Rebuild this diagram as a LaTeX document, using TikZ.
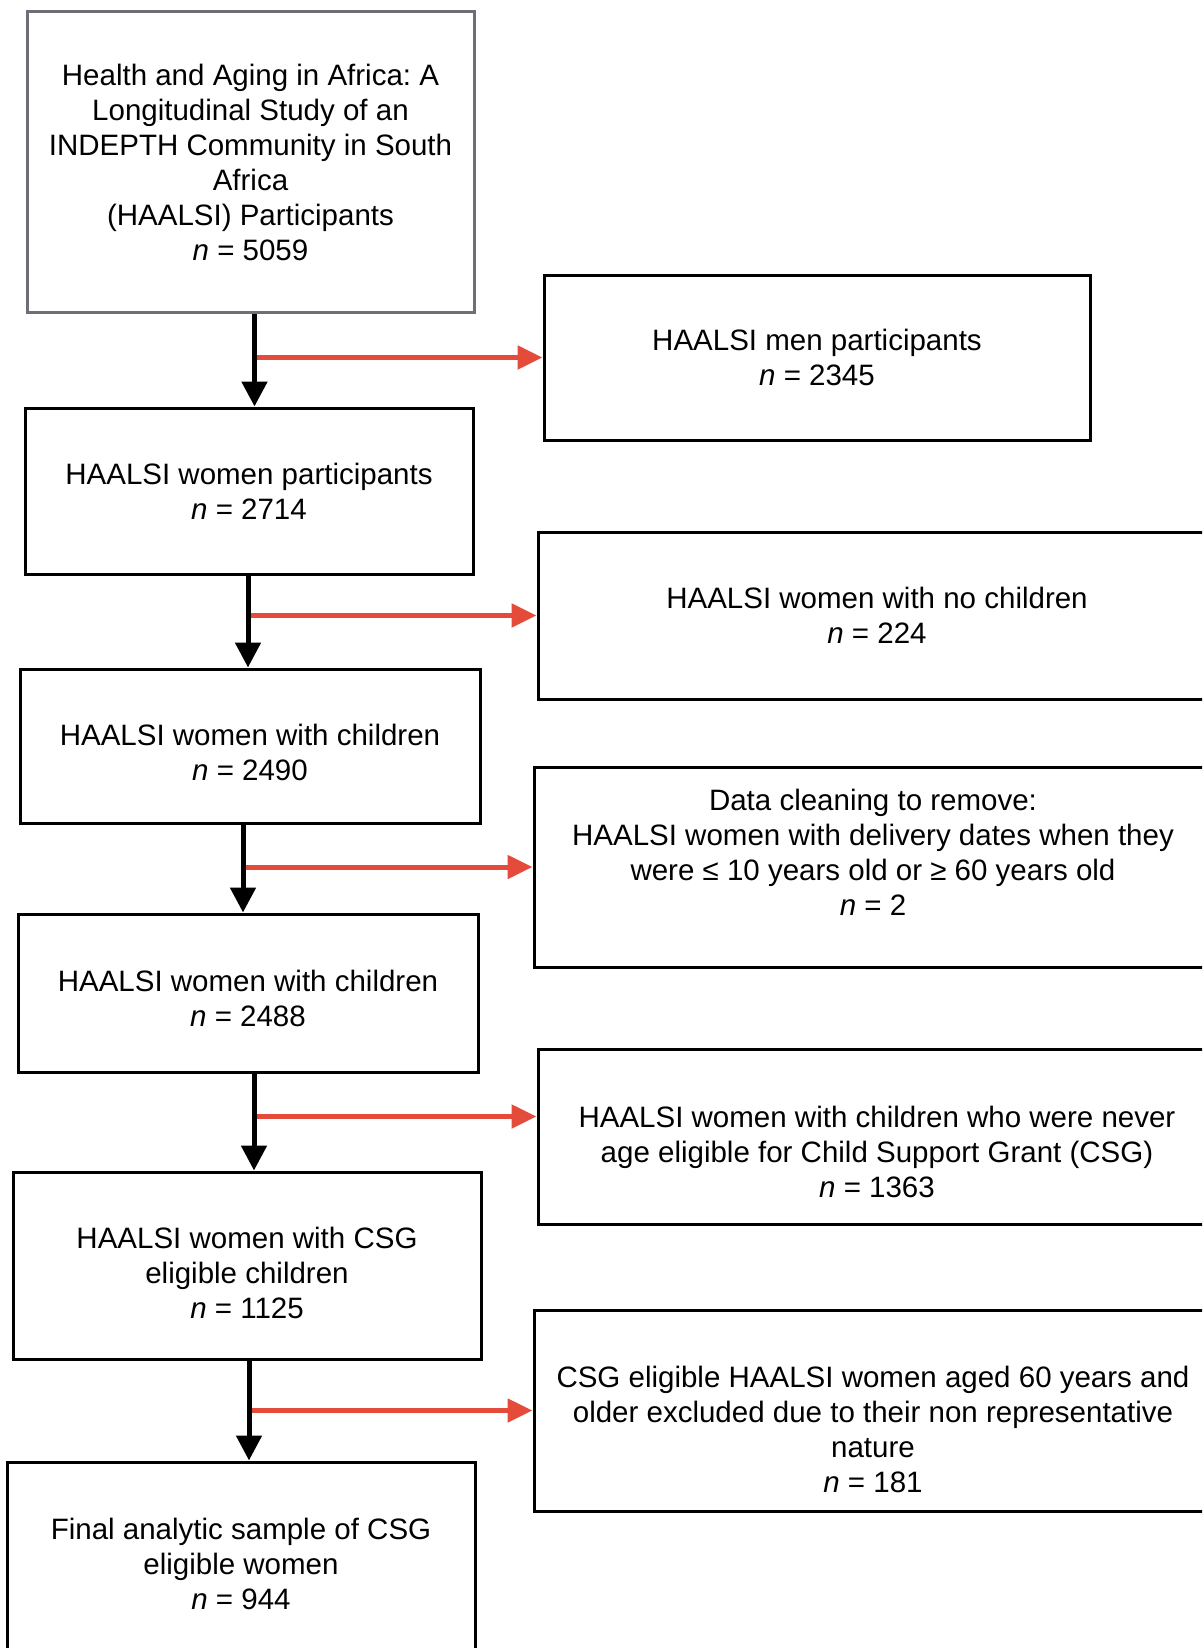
\documentclass[tikz,border=0pt]{standalone}
\usepackage{fontspec}
\setmainfont{Liberation Sans}
\usetikzlibrary{arrows.meta}
\definecolor{exclred}{RGB}{229,75,58}
\definecolor{framegray}{RGB}{110,110,118}
\newcommand{\clrmain}{black}
\newcommand{\clrexcl}{exclred}
\newcommand{\sinktext}[1]{\rule{0pt}{\dimexpr 21pt+#1*2\relax}}
\newcommand{\lifttext}[1]{\rule[-\dimexpr #1*2\relax]{0pt}{\dimexpr #1*2\relax}}

\begin{document}
\begin{tikzpicture}[x=1pt, y=-1pt,
    box/.style={draw=\clrmain, line width=3pt, align=center, inner sep=0pt,
        font=\fontsize{29.5}{35}\selectfont\frenchspacing},
    flow/.style={line width=5pt, \clrmain, -{Triangle[length=25pt, width=25pt]}},
    excl/.style={flow, \clrexcl, -{Triangle[length=25pt, width=23pt]}}]
    \useasboundingbox (0,0) rectangle (1202,1648);
    \clip (0,0) rectangle (1202,1648);

    % left column: who stays in
    \node[box, draw=framegray, minimum width=447, minimum height=300] (start) at (250.5,162)
        {Health and Aging in Africa: A\\Longitudinal Study of an\\INDEPTH Community in South\\Africa\\(HAALSI) Participants\\\textit{n} = 5059};
    \node[box, minimum width=448, minimum height=166] (women) at (249,491)
        {HAALSI women participants\\\textit{n} = 2714};
    \node[box, minimum width=460, minimum height=154] (withkids) at (250,746)
        {\sinktext{7pt}HAALSI women with children\\\textit{n} = 2490};
    \node[box, minimum width=460, minimum height=158] (cleaned) at (248,993)
        {\sinktext{6pt}HAALSI women with children\\\textit{n} = 2488};
    \node[box, minimum width=468, minimum height=187] (eligible) at (247,1265.5)
        {\sinktext{8pt}HAALSI women with CSG\\eligible children\\\textit{n} = 1125};
    \node[box, minimum width=468, minimum height=204] (final) at (241,1564)
        {Final analytic sample of CSG\\eligible women\\\textit{n} = 944};

    % right column: who drops out
    \node[box, minimum width=546, minimum height=165] (men) at (817,357.5)
        {HAALSI men participants\\\textit{n} = 2345};
    \node[box, minimum width=678, minimum height=167] (nokids) at (877,615.5)
        {HAALSI women with no children\\\textit{n} = 224};
    \node[box, minimum width=678, minimum height=200] (cleaning) at (873,867)
        {Data cleaning to remove:\\HAALSI women with delivery dates when they\\were ≤ 10 years old or ≥ 60 years old\\\textit{n} = 2\lifttext{15pt}};
    \node[box, minimum width=678, minimum height=175] (never) at (877,1136.5)
        {\sinktext{16pt}HAALSI women with children who were never\\age eligible for Child Support Grant (CSG)\\\textit{n} = 1363};
    \node[box, minimum width=678, minimum height=201] (older) at (873,1410.5)
        {\sinktext{19pt}CSG eligible HAALSI women aged 60 years and\\older excluded due to their non representative\\nature\\\textit{n} = 181};

    \coordinate (never-in) at ([yshift=20pt]never.west);
    \foreach \src/\dst/\side/\dx in {start/women/men.west/4, women/withkids/nokids.west/-1,
            withkids/cleaned/cleaning.west/-7, cleaned/eligible/never-in/6, eligible/final/older.west/2} {
        \coordinate (tap) at ([xshift=\dx pt]\src.south);
        \draw[excl] (tap |- \side) -- (\side);
        \draw[flow] (tap) -- (tap |- \dst.north);
    }
\end{tikzpicture}
\end{document}
